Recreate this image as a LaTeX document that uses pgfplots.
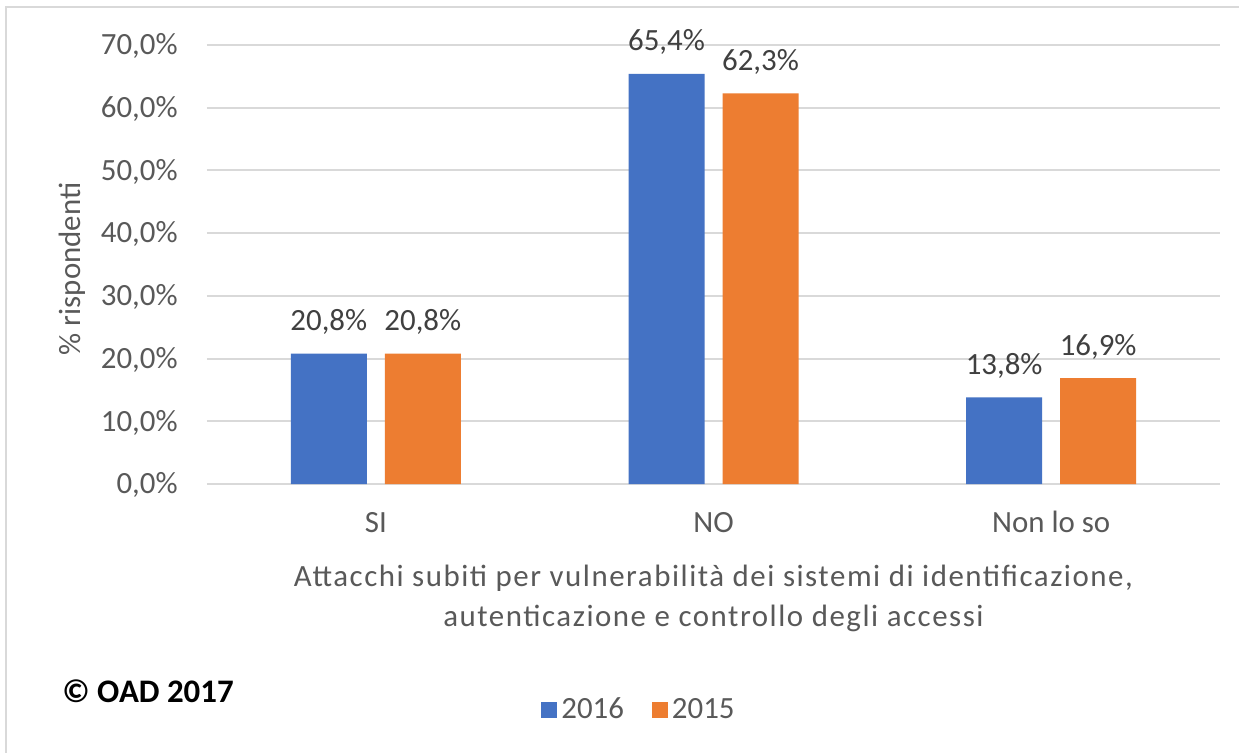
\documentclass[border=0pt]{standalone}
\usepackage{fontspec}
\setmainfont{Carlito}
\newfontfamily\spacedfont[LetterSpace=5]{Carlito}
\usepackage{pgfplots}
\pgfplotsset{compat=1.18}

\definecolor{c2016}{HTML}{4472C4}
\definecolor{c2015}{HTML}{ED7D31}
\definecolor{gridgray}{HTML}{D9D9D9}
\definecolor{txtgray}{HTML}{595959}
\definecolor{lblgray}{HTML}{404040}

\newcommand{\chartfont}{\fontsize{15.5}{20}\selectfont}

\begin{document}
\begin{tikzpicture}
  % page = 1239 x 753 px at 0.5bp per px, origin at the plot's lower left
  \useasboundingbox (-103.5bp,-134.5bp) rectangle (516bp,242bp);
  \fill[white] (-103.5bp,-134.5bp) rectangle (516bp,242bp);
  \draw[gridgray, line width=1.25bp] (-100.5bp,-140bp) -- (-100.5bp,238.5bp) -- (520bp,238.5bp);

  \begin{axis}[
    at={(0,0)}, anchor=south west,
    scale only axis,
    width=506.5bp, height=219.5bp,
    ybar=9bp,
    bar width=38bp,
    xmin=-0.5, xmax=2.5,
    ymin=0, ymax=70,
    xtick={0,1,2},
    xticklabels={SI,NO,Non lo so},
    ytick={0,10,...,70},
    /pgf/number format/assume math mode=true,
    yticklabel={\pgfmathprintnumber[fixed,fixed zerofill,precision=1,use comma]{\tick}\%},
    axis line style={draw=none},
    major tick length=0pt,
    ymajorgrids=true,
    grid style={gridgray, line width=1bp},
    tick label style={font=\chartfont, text=txtgray, inner sep=0pt},
    yticklabel style={anchor=base east, xshift=-14.5bp, yshift=-4.9bp},
    xticklabel style={anchor=base, yshift=-24bp},
    ylabel={\% rispondenti},
    ylabel style={font=\chartfont, text=txtgray, inner sep=0pt,
      at={(axis description cs:-0.1245,0.49)}, anchor=base},
    xlabel={Attacchi subiti per vulnerabilità dei sistemi di identificazione,\hspace{22bp}\\autenticazione e controllo degli accessi},
    xlabel style={font=\spacedfont\chartfont, text=txtgray, inner sep=0pt, align=center,
      at={(axis description cs:0.5,0)}, anchor=north, yshift=-40.5bp},
    nodes near coords={\pgfmathprintnumber[fixed,fixed zerofill,precision=1,use comma]{\pgfplotspointmeta}\%},
    every node near coord/.append style={font=\chartfont, text=lblgray,
      inner sep=0pt, anchor=base, yshift=11.5bp},
    legend columns=2,
    legend style={draw=none, fill=none, font=\chartfont, text=txtgray,
      at={(axis description cs:0.4274,-0.5148)}, anchor=center,
      /tikz/every even column/.append style={column sep=12bp}},
    legend image code/.code={\fill[#1] (-1.5bp,-4.2bp) rectangle (6.5bp,4.2bp);},
  ]
  \addplot[fill=c2016, draw=none] coordinates {
    (0,20.8)
    (1,65.4)
    (2,13.8)
  };
  \addplot[fill=c2015, draw=none] coordinates {
    (0,20.8)
    (1,62.3)
    (2,16.9)
  };
  \legend{2016,2015}
  \end{axis}

  \node[anchor=base west, inner sep=0pt, font=\fontsize{16.5}{20}\selectfont\bfseries] at (-72.5bp,-109bp) {© OAD 2017};
\end{tikzpicture}
\end{document}
